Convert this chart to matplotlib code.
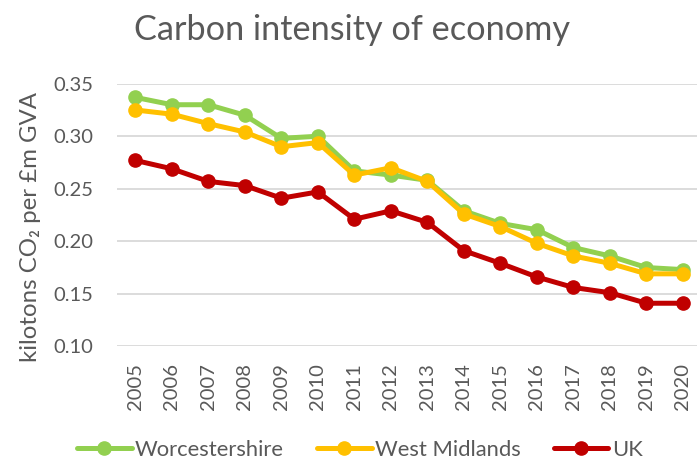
import matplotlib
matplotlib.use("Agg")
import matplotlib.pyplot as plt

plt.rcParams['font.family'] = ['Lato', 'DejaVu Sans']

years = [str(y) for y in range(2005, 2021)]
worcestershire = [0.337, 0.330, 0.330, 0.320, 0.298, 0.300, 0.267, 0.263, 0.258, 0.229, 0.217, 0.211, 0.194, 0.186, 0.175, 0.173]
west_midlands = [0.325, 0.321, 0.312, 0.304, 0.290, 0.294, 0.263, 0.270, 0.257, 0.226, 0.214, 0.198, 0.186, 0.179, 0.169, 0.169]
uk = [0.277, 0.269, 0.257, 0.253, 0.241, 0.247, 0.221, 0.229, 0.218, 0.191, 0.179, 0.166, 0.156, 0.151, 0.141, 0.141]
yticks = [0.10, 0.15, 0.20, 0.25, 0.30, 0.35]

text_color = '#595959'
fig = plt.figure(figsize=(6.97, 4.61), dpi=100)
ax = fig.add_axes([0.168, 0.2488, 0.838, 0.5696])

x = list(range(len(years)))
series = [("Worcestershire", worcestershire, '#92d050'),
          ("West Midlands", west_midlands, '#ffc000'),
          ("UK", uk, '#c00000')]
for name, vals, col in series:
    ax.plot(x, vals, color=col, lw=3.6, marker='o', markersize=9.5,
            label=name, solid_capstyle='round', zorder=3)

ax.set_xlim(-0.5, len(years) - 0.5)
ax.set_ylim(0.10, 0.35)
ax.set_yticks(yticks)
ax.set_yticklabels([f"{v:.2f}" for v in yticks])
ax.set_xticks(x)
ax.set_xticklabels(years, rotation=90)
ax.grid(axis='y', color='#d9d9d9', lw=1.3, zorder=0)
ax.set_axisbelow(True)
for s in ax.spines.values():
    s.set_visible(False)
ax.tick_params(length=0, labelsize=14.5, colors=text_color)
ax.tick_params(axis='y', pad=17)
ax.tick_params(axis='x', pad=12)

fig.text(31 / 697, 1 - 227 / 461, "kilotons CO₂ per £m GVA", rotation=90,
         ha='center', va='center', fontsize=17.3, color=text_color)

fig.text(0.505, 1 - 30 / 461, "Carbon intensity of economy", ha='center', va='center',
         fontsize=24.7, color=text_color)

leg = fig.legend(loc='center', bbox_to_anchor=(0.516, 1 - 450 / 461), ncol=3, frameon=False,
                 fontsize=15.8, handlelength=2.5, columnspacing=1.5, handletextpad=0.15,
                 borderpad=0, borderaxespad=0)
for t in leg.get_texts():
    t.set_color(text_color)

fig.savefig("out.png", dpi=100)
